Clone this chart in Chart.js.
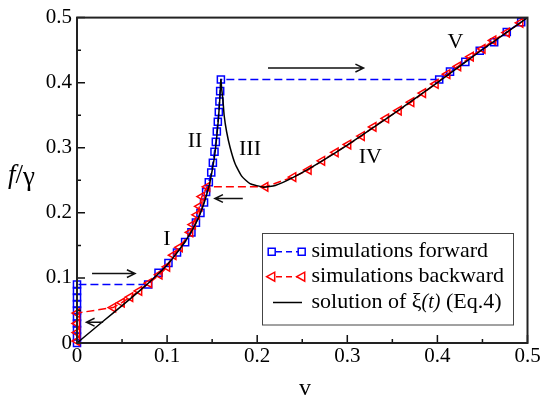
<!DOCTYPE html>
<html>
<head>
<meta charset="utf-8">
<script src="https://cdn.jsdelivr.net/npm/chart.js@4.4.1/dist/chart.umd.min.js"></script>
<style>
  body { margin: 0; background: #fff; }
  #wrap { width: 545px; height: 399px; }
</style>
</head>
<body>
<div id="wrap"><canvas id="myChart" width="545" height="399"></canvas></div>
<script>
// forward sweep (blue squares)
const fwdV = [0, 0, 0, 0, 0, 0, 0, 0, 0, 0,
  0.079, 0.0905, 0.1015, 0.111, 0.12, 0.127, 0.132, 0.137, 0.141, 0.1433,
  0.1463, 0.149, 0.1508, 0.1526, 0.1541, 0.1552, 0.1563, 0.1574, 0.1581, 0.1589, 0.1597,
  0.402, 0.414, 0.431, 0.447, 0.463, 0.477, 0.493];
const fwdF = [0, 0.01, 0.02, 0.03, 0.04, 0.05, 0.06, 0.07, 0.08, 0.09,
  0.09, 0.108, 0.123, 0.139, 0.155, 0.17, 0.185, 0.2, 0.216, 0.232,
  0.247, 0.262, 0.277, 0.294, 0.309, 0.325, 0.34, 0.355, 0.371, 0.387, 0.405,
  0.405, 0.417, 0.432, 0.449, 0.462, 0.478, 0.493];

// backward sweep (red triangles)
const bwdV = [0.492, 0.477, 0.462, 0.45, 0.437, 0.423, 0.411, 0.398, 0.384, 0.371,
  0.357, 0.343, 0.329, 0.316, 0.301, 0.287, 0.272, 0.257, 0.24, 0.209,
  0.1445, 0.1386, 0.136, 0.133, 0.1286, 0.1256, 0.114, 0.107, 0.1, 0.0915,
  0.08, 0.069, 0.059, 0.0496, 0.04, 0, 0, 0, 0];
const bwdF = [0.492, 0.477, 0.465, 0.452, 0.44, 0.425, 0.413, 0.398, 0.384, 0.37,
  0.357, 0.345, 0.332, 0.318, 0.305, 0.293, 0.28, 0.266, 0.255, 0.24,
  0.24, 0.225, 0.21, 0.197, 0.182, 0.17, 0.147, 0.135, 0.117, 0.105,
  0.092, 0.08, 0.0705, 0.062, 0.0545, 0.046, 0.03, 0.016, 0.003];

// solution of xi(t), Eq.4 (black line)
const solV = [0, 0.02, 0.04, 0.06, 0.08, 0.09, 0.1, 0.11, 0.12, 0.128,
  0.134, 0.139, 0.143, 0.147, 0.15, 0.153, 0.155, 0.157, 0.1585, 0.1597,
  0.1606, 0.162, 0.1633, 0.166, 0.17, 0.1756, 0.183, 0.192, 0.207, 0.22,
  0.24, 0.27, 0.3, 0.35, 0.4, 0.45, 0.5];
const solF = [0, 0.023, 0.046, 0.069, 0.093, 0.106, 0.12, 0.137, 0.156, 0.174,
  0.19, 0.207, 0.224, 0.244, 0.265, 0.29, 0.315, 0.345, 0.375, 0.405,
  0.39, 0.373, 0.35, 0.325, 0.3, 0.275, 0.256, 0.245, 0.2395, 0.242,
  0.2545, 0.278, 0.304, 0.351, 0.4, 0.451, 0.5];

const xTicks = [0, 0.1, 0.2, 0.3, 0.4, 0.5];
const yTicks = [0, 0.1, 0.2, 0.3, 0.4, 0.5];

// region labels and arrows, in data units
const regionText = ['I', 'II', 'III', 'IV', 'V'];
const regionV = [0.0997, 0.131, 0.192, 0.3256, 0.42];
const regionF = [0.16, 0.31, 0.297, 0.285, 0.4625];
const arrowFrom = [[0.0167, 0.1066], [0.029, 0.032], [0.184, 0.222], [0.212, 0.4224]];
const arrowTo = [[0.0644, 0.1066], [0.0105, 0.032], [0.153, 0.222], [0.318, 0.4224]];

const pts = (vs, fs) => vs.map((v, i) => ({x: v, y: fs[i]}));
const fmt = v => (Math.abs(v) < 1e-9 ? '0' : v.toFixed(1));
const SERIF = "'Liberation Serif', 'Times New Roman', serif";

Chart.defaults.font.family = SERIF;
Chart.defaults.color = '#000';

function drawArrow(ctx, x1, y1, x2, y2) {
    const a = Math.atan2(y2 - y1, x2 - x1);
    ctx.beginPath();
    ctx.moveTo(x1, y1);
    ctx.lineTo(x2, y2);
    ctx.moveTo(x2 - 9 * Math.cos(a - 0.45), y2 - 9 * Math.sin(a - 0.45));
    ctx.lineTo(x2, y2);
    ctx.lineTo(x2 - 9 * Math.cos(a + 0.45), y2 - 9 * Math.sin(a + 0.45));
    ctx.stroke();
}

function drawMarker(ctx, style, x, y, color) {
    ctx.save();
    ctx.strokeStyle = color;
    ctx.lineWidth = 1.5;
    ctx.beginPath();
    if (style === 'rect') {
        ctx.rect(x - 3.5, y - 3.5, 7, 7);
    } else {
        ctx.moveTo(x - 5, y);
        ctx.lineTo(x + 3, y - 4.5);
        ctx.lineTo(x + 3, y + 4.5);
        ctx.closePath();
    }
    ctx.stroke();
    ctx.restore();
}

const decorations = {
    id: 'decorations',
    afterDraw(chart) {
        const ctx = chart.ctx;
        const xs = chart.scales.x, ys = chart.scales.y;
        const area = chart.chartArea;
        ctx.save();

        // inward ticks
        ctx.strokeStyle = '#111';
        ctx.lineWidth = 1.5;
        ctx.beginPath();
        for (let t = 0.05; t < 0.5; t += 0.05) {
            const major = Math.round(t * 20) % 2 === 0;
            const len = major ? 8 : 4;
            const px = xs.getPixelForValue(t);
            ctx.moveTo(px, area.bottom);
            ctx.lineTo(px, area.bottom - len);
            const py = ys.getPixelForValue(t);
            ctx.moveTo(area.left, py);
            ctx.lineTo(area.left + len, py);
        }
        ctx.stroke();

        // frame
        ctx.strokeStyle = '#222';
        ctx.lineWidth = 2;
        ctx.strokeRect(area.left, area.top, area.right - area.left, area.bottom - area.top);

        // arrows
        ctx.strokeStyle = '#111';
        ctx.lineWidth = 1.5;
        arrowFrom.forEach((p, i) => {
            drawArrow(ctx, xs.getPixelForValue(p[0]), ys.getPixelForValue(p[1]),
                xs.getPixelForValue(arrowTo[i][0]), ys.getPixelForValue(arrowTo[i][1]));
        });

        // region labels
        ctx.fillStyle = '#000';
        ctx.font = "22px " + SERIF;
        ctx.textAlign = 'center';
        ctx.textBaseline = 'middle';
        regionText.forEach((s, i) => {
            ctx.fillText(s, xs.getPixelForValue(regionV[i]), ys.getPixelForValue(regionF[i]));
        });

        // axis titles
        ctx.font = "24px " + SERIF;
        ctx.fillText('v', 305, 389);
        ctx.textAlign = 'left';
        ctx.font = "italic 27px " + SERIF;
        ctx.fillText('f', 8, 176);
        let w = ctx.measureText('f').width;
        ctx.font = "27px " + SERIF;
        ctx.fillText('/', 8 + w, 176);
        w += ctx.measureText('/').width;
        ctx.fillText('γ', 8 + w, 178);

        // legend
        const lx = 262.5, ly = 233.5, lw = 251, lh = 91.5;
        ctx.fillStyle = '#fff';
        ctx.fillRect(lx, ly, lw, lh);
        ctx.strokeStyle = '#444';
        ctx.lineWidth = 1;
        ctx.strokeRect(lx, ly, lw, lh);

        const rows = [251.7, 276.7, 302.5];
        ctx.lineWidth = 1.5;
        ctx.setLineDash([6, 4]);
        ctx.strokeStyle = '#0000ff';
        ctx.beginPath(); ctx.moveTo(276, rows[0]); ctx.lineTo(298, rows[0]); ctx.stroke();
        ctx.strokeStyle = '#ff0000';
        ctx.beginPath(); ctx.moveTo(276, rows[1]); ctx.lineTo(298, rows[1]); ctx.stroke();
        ctx.setLineDash([]);
        drawMarker(ctx, 'rect', 271.7, rows[0], '#0000ff');
        drawMarker(ctx, 'rect', 301.7, rows[0], '#0000ff');
        drawMarker(ctx, 'tri', 271.7, rows[1], '#ff0000');
        drawMarker(ctx, 'tri', 301.7, rows[1], '#ff0000');
        ctx.strokeStyle = '#000';
        ctx.beginPath(); ctx.moveTo(273, rows[2]); ctx.lineTo(302, rows[2]); ctx.stroke();

        ctx.fillStyle = '#000';
        ctx.textAlign = 'left';
        ctx.font = "22px " + SERIF;
        ctx.fillText('simulations forward', 311.5, rows[0]);
        ctx.fillText('simulations backward', 311.5, rows[1]);
        let tx = 311.5;
        ctx.fillText('solution of ', tx, rows[2]);
        tx += ctx.measureText('solution of ').width;
        ctx.fillText('ξ', tx, rows[2]);
        tx += ctx.measureText('ξ').width;
        ctx.font = "italic 20px " + SERIF;
        ctx.fillText('(t)', tx, rows[2]);
        tx += ctx.measureText('(t)').width;
        ctx.font = "22px " + SERIF;
        ctx.fillText(' (Eq.4)', tx, rows[2]);

        ctx.restore();
    }
};

const config = {
    type: 'scatter',
    data: {
        datasets: [
            {
                label: 'solution of ξ(t) (Eq.4)',
                data: pts(solV, solF),
                showLine: true,
                borderColor: '#000',
                borderWidth: 1.5,
                pointRadius: 0,
                tension: 0.15,
                clip: false,
                order: 0
            },
            {
                label: 'simulations backward',
                data: pts(bwdV, bwdF),
                showLine: true,
                borderColor: '#ff0000',
                borderWidth: 1.5,
                borderDash: [8, 4],
                pointStyle: 'triangle',
                pointRotation: -90,
                pointRadius: 5,
                pointBorderWidth: 1.5,
                pointBorderColor: '#ff0000',
                pointBackgroundColor: 'rgba(0,0,0,0)',
                clip: false,
                order: 1
            },
            {
                label: 'simulations forward',
                data: pts(fwdV, fwdF),
                showLine: true,
                borderColor: '#0000ff',
                borderWidth: 1.5,
                borderDash: [8, 4],
                pointStyle: 'rect',
                pointRadius: 5,
                pointBorderWidth: 1.5,
                pointBorderColor: '#0000ff',
                pointBackgroundColor: 'rgba(0,0,0,0)',
                clip: false,
                order: 2
            }
        ]
    },
    options: {
        responsive: false,
        animation: false,
        layout: { padding: { top: 10, right: 17.5, left: 0, bottom: 0 } },
        plugins: {
            legend: { display: false },
            tooltip: { enabled: false }
        },
        scales: {
            x: {
                type: 'linear',
                min: 0,
                max: 0.5,
                afterFit: s => { s.height = 56; },
                afterBuildTicks: s => { s.ticks = xTicks.map(v => ({value: v})); },
                grid: { display: false, drawTicks: false },
                border: { display: false },
                ticks: { font: { family: SERIF, size: 21 }, padding: 1, callback: fmt, color: '#000' }
            },
            y: {
                type: 'linear',
                min: 0,
                max: 0.5,
                afterFit: s => { s.width = 77; },
                afterBuildTicks: s => { s.ticks = yTicks.map(v => ({value: v})); },
                grid: { display: false, drawTicks: false },
                border: { display: false },
                ticks: { font: { family: SERIF, size: 21 }, padding: 5, callback: fmt, color: '#000' }
            }
        }
    },
    plugins: [decorations]
};

var ctx = document.getElementById('myChart').getContext('2d');
var myChart = new Chart(ctx, config);
</script>
</body>
</html>
